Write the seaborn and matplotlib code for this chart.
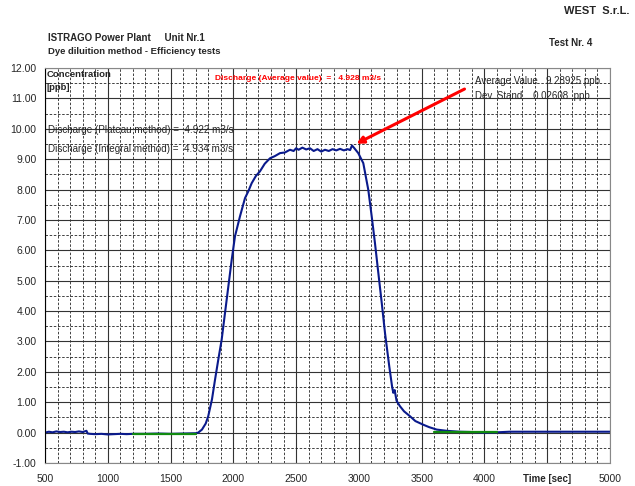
import numpy as np
import pandas as pd
import matplotlib
matplotlib.use("Agg")
import matplotlib.pyplot as plt
import seaborn as sns
from matplotlib.ticker import MultipleLocator, FixedLocator

# concentration curve (time in sec, concentration in ppb)
time_s = [500, 530, 560, 590, 620, 650, 680, 710, 740, 770, 800, 830, 840,
          860, 900, 950, 1000, 1050, 1100, 1150, 1200, 1300, 1400, 1500, 1600,
          1700, 1720, 1750, 1780, 1800, 1830, 1854, 1880, 1907, 1947, 1987,
          2013, 2053, 2093, 2120, 2146, 2180, 2212, 2250, 2292, 2330, 2372,
          2410, 2451, 2480, 2500, 2520, 2550, 2580, 2610, 2640, 2670, 2700,
          2730, 2760, 2790, 2820, 2850, 2880, 2910, 2930, 2945, 2960, 2995,
          3035, 3075, 3102, 3128, 3155, 3182, 3208, 3242, 3265, 3274, 3285,
          3300, 3327, 3360, 3407, 3450, 3513, 3560, 3620, 3700, 3800, 3900,
          4000, 4100, 4200, 4400, 4600, 4800, 5000]
conc_ppb = [0.00, 0.03, 0.01, 0.04, 0.02, 0.03, 0.01, 0.03, 0.02, 0.04, 0.02,
            0.06, -0.03, -0.04, -0.05, -0.04, -0.06, -0.05, -0.04, -0.05,
            -0.04, -0.04, -0.03, -0.04, -0.03, -0.02, 0.00, 0.10, 0.30, 0.54,
            1.10, 1.74, 2.40, 3.06, 4.38, 5.69, 6.46, 7.12, 7.72, 7.95, 8.21,
            8.45, 8.60, 8.85, 9.03, 9.10, 9.20, 9.22, 9.31, 9.27, 9.36, 9.31,
            9.38, 9.32, 9.36, 9.27, 9.33, 9.25, 9.31, 9.27, 9.33, 9.29, 9.34,
            9.29, 9.33, 9.30, 9.45, 9.38, 9.20, 8.87, 7.99, 7.12, 6.24, 5.25,
            4.27, 3.28, 2.18, 1.50, 1.31, 1.40, 1.05, 0.87, 0.70, 0.54, 0.38,
            0.26, 0.18, 0.10, 0.06, 0.03, 0.02, 0.00, 0.01, 0.03, 0.03, 0.03,
            0.03, 0.03]

# baseline stretches (green)
base1_t = [1200, 1300, 1400, 1500, 1600, 1700]
base1_c = [-0.03, -0.03, -0.03, -0.03, -0.03, -0.03]
base2_t = [3600, 3700, 3800, 3900, 4000, 4100]
base2_c = [0.02, 0.02, 0.02, 0.02, 0.02, 0.02]

x_ticks = [500, 1000, 1500, 2000, 2500, 3000, 3500, 4000, 4500, 5000]
x_labels = ["500", "1000", "1500", "2000", "2500", "3000", "3500", "4000",
            "Time [sec]", "5000"]

sns.set_style("white")
plt.rcParams["font.family"] = ["Liberation Sans", "DejaVu Sans"]

fig = plt.figure(figsize=(6.35, 4.86), dpi=100)
ax = fig.add_axes([0.0709, 0.0473, 0.8897, 0.8127])

curve = pd.DataFrame({"t": time_s, "c": conc_ppb})
sns.lineplot(data=curve, x="t", y="c", color="#0a1a8c", lw=1.5, ax=ax)
sns.lineplot(x=base1_t, y=base1_c, color="#108a10", lw=1.6, ax=ax)
sns.lineplot(x=base2_t, y=base2_c, color="#108a10", lw=1.6, ax=ax)

ax.set_xlim(500, 5000)
ax.set_ylim(-1, 12)
ax.xaxis.set_major_locator(FixedLocator(x_ticks))
ax.set_xticklabels(x_labels)
ax.xaxis.set_minor_locator(MultipleLocator(100))
ax.yaxis.set_major_locator(MultipleLocator(1))
ax.yaxis.set_minor_locator(MultipleLocator(0.5))
ax.yaxis.set_major_formatter(matplotlib.ticker.FormatStrFormatter("%.2f"))
ax.grid(which="major", color="#333333", lw=0.8, ls="-")
ax.grid(which="minor", color="#222222", lw=0.6, ls=(0, (3, 2)))
ax.set_axisbelow(True)
ax.tick_params(axis="y", which="major", length=4, width=0.8, labelsize=7.5, pad=2)
ax.tick_params(axis="x", which="major", length=0, labelsize=7.5, pad=8)
ax.tick_params(which="minor", length=0)
for lbl in ax.get_xticklabels():
    if lbl.get_text() == "Time [sec]":
        lbl.set_fontweight("bold")
        lbl.set_fontsize(7)
ax.set_xlabel("")
ax.set_ylabel("")
for side in ["top", "right", "bottom"]:
    ax.spines[side].set_color("#888888")
ax.spines["left"].set_color("black")

ax.text(515, 11.95, "Concentration\n[ppb]", fontsize=6.8, fontweight="bold",
        va="top", ha="left", linespacing=1.6)
ax.text(1854, 11.64, "Discharge (Average value)  =   4.928 m3/s", color="red",
        fontsize=6.0, fontweight="bold", va="center")
ax.text(3925, 11.58, "Average Value   9.28925 ppb", fontsize=7.0, va="center")
ax.text(3925, 11.09, "Dev. Stand.   0.02608  ppb", fontsize=7.0, va="center")
ax.text(524, 9.97, "Discharge (Plateau method) =  4.922 m3/s", fontsize=7.1,
        va="center")
ax.text(524, 9.34, "Discharge (Integral method) =  4.934 m3/s", fontsize=7.1,
        va="center")
ax.annotate("", xy=(2961, 9.47), xytext=(3861, 11.35),
            arrowprops=dict(arrowstyle="-|>", color="red", lw=2.2,
                            mutation_scale=10))

fig.text(0.0756, 0.922, "ISTRAGO Power Plant     Unit Nr.1", fontsize=7.0,
         fontweight="bold", va="center")
fig.text(0.0756, 0.895, "Dye diluition method - Efficiency tests", fontsize=6.8,
         fontweight="bold", va="center")
fig.text(0.992, 0.977, "WEST  S.r.L.", fontsize=8, fontweight="bold",
         ha="right", va="center")
fig.text(0.865, 0.9115, "Test Nr. 4", fontsize=7.0, fontweight="bold",
         va="center")

fig.savefig("out.png", dpi=100)
